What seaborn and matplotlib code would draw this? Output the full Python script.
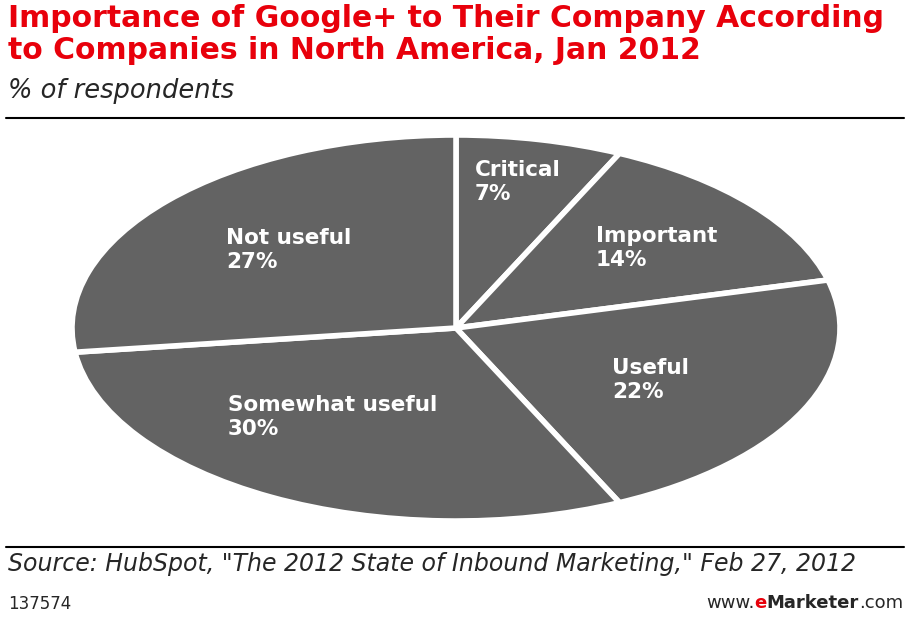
import matplotlib
matplotlib.use("Agg")
import matplotlib.pyplot as plt
import seaborn as sns

# data
categories = ["Critical", "Important", "Useful", "Somewhat useful", "Not useful"]
shares = [7, 14, 22, 30, 27]
label_pos = [(475, 160), (596, 226), (612, 358), (228, 395), (226, 228)]  # text, pixel coords

sns.set_style("white")
plt.rcParams['font.family'] = ['DejaVu Sans']

W, H = 910, 640
fig = plt.figure(figsize=(W / 100, H / 100), dpi=100)

# pie drawn into an axes stretched to an ellipse
ax = fig.add_axes([72 / W, (H - 521) / H, 768 / W, 386 / H])
ax.pie(shares, startangle=90, counterclock=False, radius=1,
       colors=["#636363"] * len(shares),
       wedgeprops=dict(edgecolor="white", linewidth=4))
ax.set_aspect('auto')
ax.set_xlim(-1.0, 1.0)
ax.set_ylim(-1.0, 1.0)
ax.axis('off')

for name, val, (px, py) in zip(categories, shares, label_pos):
    fig.text(px / W, 1 - py / H, f"{name}\n{val}%", color="white", fontsize=15.5,
             fontweight="bold", ha="left", va="top", linespacing=1.25)

# titles
fig.text(8 / W, 1 - 4 / H, "Importance of Google+ to Their Company According\nto Companies in North America, Jan 2012",
         color="#e8000b", fontsize=21.5, fontweight="bold", ha="left", va="top", linespacing=1.15)
fig.text(8 / W, 1 - 78 / H, "% of respondents", fontsize=18.5, style="italic", ha="left", va="top")

for y in (118, 547):
    fig.add_artist(plt.Line2D([6 / W, 904 / W], [1 - y / H, 1 - y / H], color="black", lw=1.5))

fig.text(8 / W, 1 - 552 / H, 'Source: HubSpot, "The 2012 State of Inbound Marketing," Feb 27, 2012',
         fontsize=17, style="italic", ha="left", va="top")
fig.text(8 / W, 1 - 595 / H, "137574", fontsize=12, ha="left", va="top")

# footer logo, laid out right to left
renderer = fig.canvas.get_renderer()
x = 903
for s, kw in [(".com", {}), ("Marketer", dict(fontweight="bold")),
              ("e", dict(fontweight="bold", color="#e8000b")), ("www.", {})]:
    t = fig.text(x / W, 1 - 594 / H, s, fontsize=13, ha="right", va="top", **kw)
    x -= t.get_window_extent(renderer).width

fig.savefig("out.png", dpi=100)
